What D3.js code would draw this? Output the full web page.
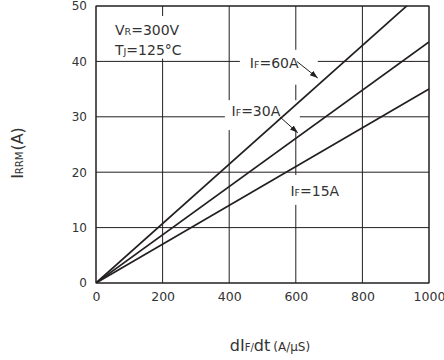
<!DOCTYPE html>
<html>
<head>
<meta charset="utf-8">
<script src="https://cdn.jsdelivr.net/npm/d3@7"></script>
<style>
  body { margin: 0; background: #fff; }
  text { font-family: "DejaVu Sans", sans-serif; fill: #333; }
</style>
</head>
<body>
<div id="chart"></div>
<script>
// reverse recovery current vs dIF/dt, VR=300V, TJ=125C
var xTicks = [0, 200, 400, 600, 800, 1000];
var yTicks = [0, 10, 20, 30, 40, 50];
var seriesNames = ["IF=60A", "IF=30A", "IF=15A"];
var dIdt = [0, 1000];
var irrm60 = [0, 53.6];
var irrm30 = [0, 43.5];
var irrm15 = [0, 35.0];

var w = 444, h = 360;
var margin = {top: 6, right: 15, bottom: 77, left: 96};

var svg = d3.select("#chart").append("svg")
    .attr("width", w)
    .attr("height", h);

var x = d3.scaleLinear().domain([0, 1000]).range([margin.left, w - margin.right]);
var y = d3.scaleLinear().domain([0, 50]).range([h - margin.bottom, margin.top]);

var ink = "#231f20";

svg.append("defs").append("clipPath").attr("id", "plotclip")
  .append("rect")
    .attr("x", x(0)).attr("y", y(50))
    .attr("width", x(1000) - x(0)).attr("height", y(0) - y(50));

svg.select("defs").append("marker")
    .attr("id", "arrow")
    .attr("viewBox", "0 0 10 10")
    .attr("refX", 10).attr("refY", 5)
    .attr("markerWidth", 8).attr("markerHeight", 8)
    .attr("orient", "auto")
  .append("path")
    .attr("d", "M0,1.5 L10,5 L0,8.5 Z")
    .attr("fill", ink);

// grid
svg.append("g")
    .selectAll("line.v")
    .data(xTicks)
    .enter().append("line")
    .attr("x1", d => x(d)).attr("x2", d => x(d))
    .attr("y1", y(0)).attr("y2", y(50))
    .attr("stroke", ink).attr("stroke-width", 1);
svg.append("g")
    .selectAll("line.h")
    .data(yTicks)
    .enter().append("line")
    .attr("x1", x(0)).attr("x2", x(1000))
    .attr("y1", d => y(d)).attr("y2", d => y(d))
    .attr("stroke", ink).attr("stroke-width", 1);

// white boxes behind the labels (they break the grid)
var boxes = [
  {x0: 42, x1: 268, y0: 48.2, y1: 40.5},
  {x0: 432, x1: 666, y0: 42.1, y1: 35.8},
  {x0: 387, x1: 612, y0: 33.0, y1: 27.6},
  {x0: 564, x1: 732, y0: 19.5, y1: 14.1}
];
svg.append("g").selectAll("rect")
    .data(boxes)
    .enter().append("rect")
    .attr("x", d => x(d.x0)).attr("y", d => y(d.y0))
    .attr("width", d => x(d.x1) - x(d.x0))
    .attr("height", d => y(d.y1) - y(d.y0))
    .attr("fill", "#fff");

// frame
svg.append("rect")
    .attr("x", x(0)).attr("y", y(50))
    .attr("width", x(1000) - x(0)).attr("height", y(0) - y(50))
    .attr("fill", "none").attr("stroke", ink).attr("stroke-width", 1);

// curves
var line = d3.line().x(d => x(d[0])).y(d => y(d[1]));
var curves = [irrm60, irrm30, irrm15].map(vals => dIdt.map((v, i) => [v, vals[i]]));
svg.append("g").attr("clip-path", "url(#plotclip)")
    .selectAll("path")
    .data(curves)
    .enter().append("path")
    .attr("d", line)
    .attr("fill", "none")
    .attr("stroke", ink)
    .attr("stroke-width", 1.7);

// axes (labels only)
var xAxis = svg.append("g")
    .attr("transform", "translate(0," + y(0) + ")")
    .call(d3.axisBottom(x).tickValues(xTicks).tickFormat(d3.format("d")).tickSize(0).tickPadding(9));
xAxis.select(".domain").remove();
xAxis.selectAll("text").attr("font-size", 12.5).attr("fill", "#333")
    .style("font-family", "'DejaVu Sans', sans-serif");

var yAxis = svg.append("g")
    .attr("transform", "translate(" + x(0) + ",0)")
    .call(d3.axisLeft(y).tickValues(yTicks).tickSize(0).tickPadding(9));
yAxis.select(".domain").remove();
yAxis.selectAll("text").attr("font-size", 12).attr("fill", "#333")
    .style("font-family", "'DejaVu Sans', sans-serif");

// conditions
var cond = svg.append("g").attr("font-size", 14);
var t1 = cond.append("text").attr("x", x(57)).attr("y", 35);
t1.append("tspan").text("V");
t1.append("tspan").attr("font-size", 9.5).text("R");
t1.append("tspan").text("=300V");
var t2 = cond.append("text").attr("x", x(57)).attr("y", 55);
t2.append("tspan").text("T");
t2.append("tspan").attr("font-size", 9.5).text("J");
t2.append("tspan").text("=125°C");

// series labels
var labels = [
  {name: seriesNames[0], lx: 462, ly: 38.8, a: [[603, 40], [666, 37]]},
  {name: seriesNames[1], lx: 407, ly: 30.2, a: [[552, 30], [606, 27.1]]},
  {name: seriesNames[2], lx: 584, ly: 15.7, a: null}
];
labels.forEach(function(d) {
  var t = svg.append("text").attr("x", x(d.lx)).attr("y", y(d.ly)).attr("font-size", 14);
  t.append("tspan").text("I");
  t.append("tspan").attr("font-size", 9.5).text("F");
  t.append("tspan").text(d.name.slice(2));
  if (d.a) {
    svg.append("line")
      .attr("x1", x(d.a[0][0])).attr("y1", y(d.a[0][1]))
      .attr("x2", x(d.a[1][0])).attr("y2", y(d.a[1][1]))
      .attr("stroke", ink).attr("stroke-width", 1)
      .attr("marker-end", "url(#arrow)");
  }
});

// axis titles
var xt = svg.append("text")
    .attr("x", 270).attr("y", 351)
    .attr("text-anchor", "middle")
    .attr("font-size", 16);
xt.append("tspan").text("dI");
xt.append("tspan").attr("font-size", 10).text("F/");
xt.append("tspan").text("dt");
xt.append("tspan").attr("font-size", 12).attr("dx", 3).text("(A/μS)");

var yt = svg.append("text")
    .attr("transform", "translate(23," + 153 + ") rotate(-90)")
    .attr("text-anchor", "middle")
    .attr("font-size", 16);
yt.append("tspan").text("I");
yt.append("tspan").attr("font-size", 10).text("RRM");
yt.append("tspan").attr("dx", 1).text("(A)");
</script>
</body>
</html>
